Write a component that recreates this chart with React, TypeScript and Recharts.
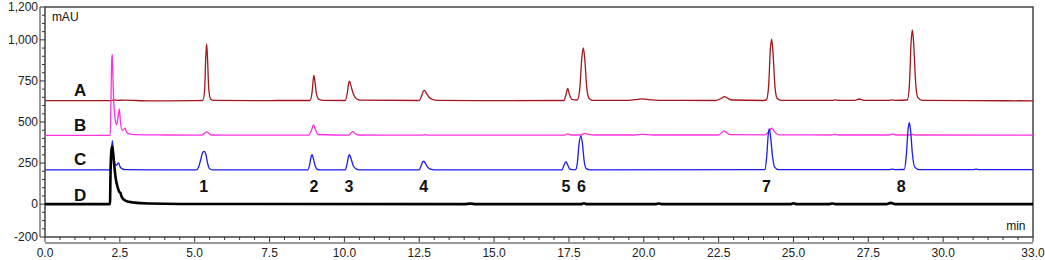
import React from 'react';
import { LineChart, Line, XAxis, YAxis, ReferenceArea, ReferenceDot } from 'recharts';

// chromatogram traces, [time (min), absorbance (mAU)]
const traceA: [number, number][] = [
  [0, 630], [2.2, 630], [2.3, 634], [2.45, 632], [2.6, 633], [3.5, 629], [5.0, 630],
  [5.27, 631], [5.33, 690], [5.37, 900], [5.4, 975], [5.43, 880], [5.47, 700], [5.53, 640], [5.62, 632],
  [7.0, 630], [8.0, 631],
  [8.85, 631], [8.92, 680], [8.96, 760], [8.98, 784], [9.02, 740], [9.07, 670], [9.15, 638], [9.3, 632],
  [10.03, 631], [10.1, 680], [10.14, 735], [10.17, 748], [10.22, 720], [10.3, 670], [10.4, 642], [10.55, 633],
  [12.5, 631], [12.58, 660], [12.64, 688], [12.67, 692], [12.73, 678], [12.82, 652], [12.95, 637], [13.1, 632],
  [15.0, 630],
  [17.33, 631], [17.4, 665], [17.46, 704], [17.52, 665], [17.6, 638],
  [17.78, 634], [17.86, 700], [17.93, 890], [17.98, 951], [18.03, 880], [18.1, 700], [18.18, 642], [18.3, 632],
  [19.5, 632], [19.8, 638], [19.95, 641], [20.2, 636], [20.5, 632],
  [22.4, 631], [22.6, 645], [22.69, 655], [22.8, 645], [22.95, 634],
  [24.0, 631],
  [24.1, 636], [24.17, 720], [24.23, 950], [24.27, 1005], [24.31, 940], [24.38, 720], [24.45, 645], [24.6, 632],
  [26.3, 632], [26.4, 635], [26.5, 632], [27.05, 632], [27.2, 640], [27.35, 632], [28.2, 632], [28.3, 635], [28.4, 632],
  [28.8, 634], [28.87, 720], [28.93, 990], [28.97, 1060], [29.01, 990], [29.08, 740], [29.15, 650], [29.3, 632],
  [31.0, 630], [33.0, 629],
];

const traceB: [number, number][] = [
  [0, 419], [2.18, 419], [2.2, 600], [2.23, 880], [2.25, 912], [2.28, 700], [2.33, 540], [2.39, 483],
  [2.44, 530], [2.48, 579], [2.52, 500], [2.58, 448], [2.63, 455], [2.67, 462], [2.72, 440], [2.8, 428],
  [3.0, 423], [4.0, 421],
  [5.25, 420], [5.33, 432], [5.4, 440], [5.47, 432], [5.55, 421],
  [8.8, 420], [8.9, 450], [8.97, 482], [9.03, 455], [9.12, 424],
  [10.15, 420], [10.23, 435], [10.29, 442], [10.36, 430], [10.45, 421],
  [12.6, 420], [12.7, 423], [12.8, 420],
  [17.35, 420], [17.46, 428], [17.56, 421], [17.9, 421], [18.02, 431], [18.15, 425], [18.35, 421],
  [19.7, 421], [19.95, 425], [20.3, 421],
  [22.5, 421], [22.62, 438], [22.68, 446], [22.76, 436], [22.9, 423],
  [24.05, 422], [24.17, 440], [24.27, 462], [24.33, 452], [24.42, 430], [24.55, 422],
  [26.25, 421], [26.38, 424], [26.5, 421],
  [28.2, 421], [28.31, 428], [28.42, 421], [28.9, 421], [28.97, 425], [29.05, 421],
  [33.0, 420],
];

const traceC: [number, number][] = [
  [0, 208], [2.18, 208], [2.21, 300], [2.25, 387], [2.29, 300], [2.34, 245], [2.38, 235], [2.43, 248],
  [2.46, 251], [2.5, 230], [2.58, 215], [2.7, 210], [3.5, 209],
  [5.05, 209], [5.13, 225], [5.2, 270], [5.27, 315], [5.32, 321], [5.37, 305], [5.43, 250], [5.5, 215], [5.6, 209],
  [8.78, 209], [8.84, 240], [8.89, 290], [8.92, 301], [8.96, 280], [9.02, 235], [9.1, 212], [9.2, 209],
  [10.03, 209], [10.09, 245], [10.14, 292], [10.17, 301], [10.22, 278], [10.3, 232], [10.4, 213], [10.5, 209],
  [12.5, 209], [12.57, 238], [12.62, 258], [12.65, 261], [12.7, 250], [12.78, 225], [12.9, 211], [13.0, 209],
  [15.0, 209],
  [17.27, 209], [17.33, 235], [17.4, 259], [17.46, 238], [17.53, 213], [17.62, 210],
  [17.72, 210], [17.78, 250], [17.84, 370], [17.9, 416], [17.95, 370], [18.01, 260], [18.08, 216], [18.2, 209],
  [24.0, 210],
  [24.05, 212], [24.11, 300], [24.16, 430], [24.19, 458], [24.23, 420], [24.3, 290], [24.37, 225], [24.5, 210],
  [28.2, 210], [28.3, 213], [28.4, 210],
  [28.7, 211], [28.77, 300], [28.83, 460], [28.87, 496], [28.91, 450], [28.97, 310], [29.05, 225], [29.2, 210],
  [31.0, 210], [31.1, 213], [31.2, 210], [33.0, 210],
];

const traceD: [number, number][] = [
  [0, 0], [2.17, 0], [2.19, 200], [2.22, 330], [2.25, 350], [2.3, 260], [2.36, 160], [2.43, 100],
  [2.48, 75], [2.52, 68], [2.56, 45], [2.65, 25], [2.8, 14], [3.0, 9], [3.5, 4], [4.5, 1],
  [14.0, 0], [14.2, 3], [14.4, 0], [17.9, 0], [18.0, 5], [18.1, 0], [20.4, 0], [20.5, 4], [20.6, 0],
  [24.9, 0], [25.0, 5], [25.1, 0], [26.2, 0], [26.3, 4], [26.4, 0], [28.1, 0], [28.25, 8], [28.4, 0],
  [33.0, 0],
];

// trace letters and peak numbers, placed in data units
const traceLabels: [string, number, number][] = [
  ['A', 1.17, 693], ['B', 1.17, 482], ['C', 1.17, 273], ['D', 1.17, 57],
];
const peakLabels: [string, number][] = [
  ['1', 5.3], ['2', 8.98], ['3', 10.15], ['4', 12.65], ['5', 17.4], ['6', 17.92], ['7', 24.1], ['8', 28.6],
];
const peakLabelY = 110;

const majorX = [0, 2.5, 5, 7.5, 10, 12.5, 15, 17.5, 20, 22.5, 25, 27.5, 30, 33];
const minorX = Array.from({ length: 67 }, (_, i) => i * 0.5);
const majorY = [-200, 0, 250, 500, 750, 1000, 1200];
const minorY = Array.from({ length: 29 }, (_, i) => -200 + i * 50);

const toRows = (pts: [number, number][]) => pts.map(([t, v]) => ({ t, v }));

const font = '"Liberation Sans", Arial, sans-serif';

const XTick = ({ x, y, payload }: any) => {
  const major = majorX.includes(payload.value);
  return (
    <g>
      <line x1={x} x2={x} y1={y} y2={y + (major ? 5 : 3)} stroke="#333" />
      {major && (
        <text x={x} y={y + 20} textAnchor="middle" fontSize={12} fill="#222" fontFamily={font}>
          {payload.value.toFixed(1)}
        </text>
      )}
    </g>
  );
};

const YTick = ({ x, y, payload }: any) => {
  const major = majorY.includes(payload.value);
  return (
    <g>
      <line x1={x - (major ? 5 : 3)} x2={x} y1={y} y2={y} stroke="#333" />
      {major && (
        <text x={x - 7} y={y + 4} textAnchor="end" fontSize={12} fill="#222" fontFamily={font}>
          {payload.value.toLocaleString('en-US')}
        </text>
      )}
    </g>
  );
};

const textShape = (label: string, size: number, bold: boolean, anchor = 'middle') => (p: any) => (
  <text x={p.cx} y={p.cy} dy="0.35em" textAnchor={anchor} fontSize={size}
    fontWeight={bold ? 'bold' : 'normal'} fill="#111" fontFamily={font}>
    {label}
  </text>
);

export default function App() {
  return (
    <div style={{ width: 1045, height: 260 }}>
      <style>{`body{margin:0} .recharts-xAxis{transform:translate(0px,6px)} .recharts-yAxis{transform:translate(-5px,0px)}`}</style>
      <LineChart width={1045} height={260} margin={{ top: 7, right: 12, left: 0, bottom: 0 }}>
        <XAxis
          dataKey="t"
          type="number"
          domain={[0, 33]}
          ticks={minorX}
          interval={0}
          allowDataOverflow
          height={23}
          tickSize={0}
          tickMargin={0}
          tick={<XTick />}
          axisLine={{ stroke: '#333' }}
        />
        <YAxis
          type="number"
          domain={[-200, 1200]}
          ticks={minorY}
          interval={0}
          allowDataOverflow
          width={45}
          tickSize={0}
          tickMargin={0}
          tick={<YTick />}
          axisLine={{ stroke: '#333' }}
        />
        <Line data={toRows(traceA)} dataKey="v" type="monotone" stroke="#a3161c" strokeWidth={1.3} dot={false} isAnimationActive={false} />
        <Line data={toRows(traceB)} dataKey="v" type="monotone" stroke="#ff30e0" strokeWidth={1.3} dot={false} isAnimationActive={false} />
        <Line data={toRows(traceC)} dataKey="v" type="monotone" stroke="#1c1cf0" strokeWidth={1.3} dot={false} isAnimationActive={false} />
        <Line data={toRows(traceD)} dataKey="v" type="monotone" stroke="#000" strokeWidth={2.6} dot={false} isAnimationActive={false} />
        <ReferenceArea x1={0} x2={33} y1={-200} y2={1200} fill="none" stroke="#444" strokeWidth={1.5} />
        {traceLabels.map(([s, t, v]) => (
          <ReferenceDot key={s} x={t} y={v} r={0} shape={textShape(s, 17, true)} />
        ))}
        {peakLabels.map(([s, t]) => (
          <ReferenceDot key={s} x={t} y={peakLabelY} r={0} shape={textShape(s, 16, true)} />
        ))}
        <ReferenceDot x={0.23} y={1140} r={0} shape={textShape('mAU', 12, false, 'start')} />
        <ReferenceDot x={32.75} y={-133} r={0} shape={textShape('min', 12, false, 'end')} />
      </LineChart>
    </div>
  );
}
